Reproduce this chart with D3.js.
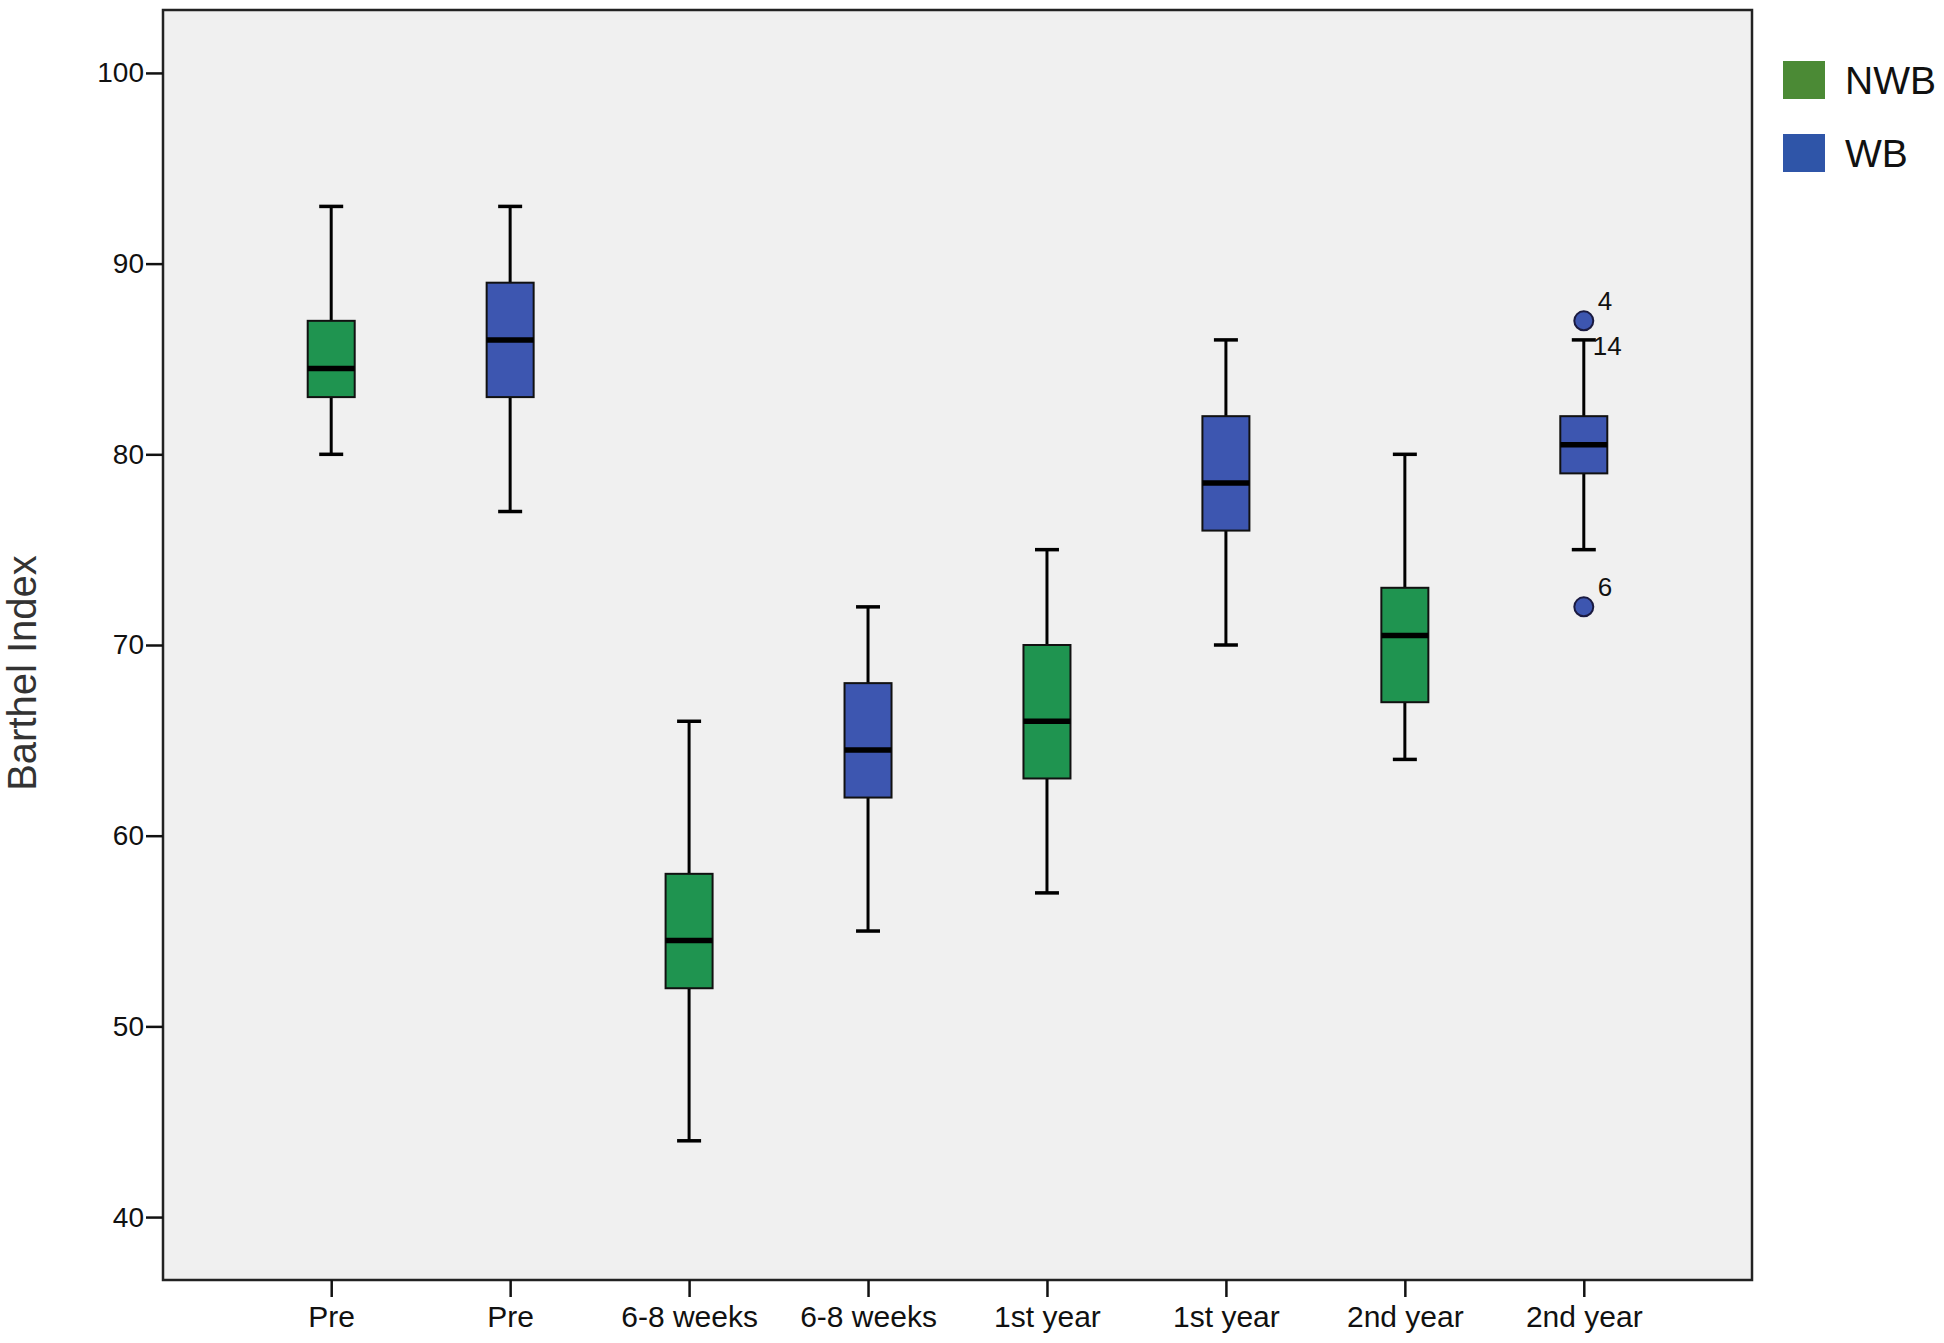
<!DOCTYPE html>
<html><head><meta charset="utf-8">
<script src="https://cdnjs.cloudflare.com/ajax/libs/d3/7.8.5/d3.min.js"></script>
<style>body{margin:0;background:#fff}svg{display:block}text{font-family:"Liberation Sans",Arial,sans-serif}</style>
</head><body>
<svg id="c" width="1944" height="1343"></svg>
<script>
const categories = ["Pre","Pre","6-8 weeks","6-8 weeks","1st year","1st year","2nd year","2nd year"];
const groups = ["NWB","WB","NWB","WB","NWB","WB","NWB","WB"];
const whiskerLow  = [80, 77, 44, 55, 57, 70, 64, 75];
const q1          = [83, 83, 52, 62, 63, 76, 67, 79];
const median      = [84.5, 86, 54.5, 64.5, 66, 78.5, 70.5, 80.5];
const q3          = [87, 89, 58, 68, 70, 82, 73, 82];
const whiskerHigh = [93, 93, 66, 72, 75, 86, 80, 86];
const outliers = [{box:7, value:87, label:"4"}, {box:7, value:72, label:"6"}];
const extraLabels = [{box:7, value:86, label:"14"}];
const yTicks = [40,50,60,70,80,90,100];
const legendItems = ["NWB","WB"];

const boxColor = {NWB:"#1f9450", WB:"#3d56b0"};
const legendColor = {NWB:"#4b8a35", WB:"#2f55a8"};

const svg = d3.select("#c");
const L=163, R=1752, T=10, B=1280;
const x = d3.scalePoint().domain(d3.range(categories.length)).range([L,R]).padding(0.94);
const y = d3.scaleLinear().domain([36.7, 103.3]).range([B,T]);

svg.append("rect").attr("x",L).attr("y",T).attr("width",R-L).attr("height",B-T)
  .attr("fill","#f0f0f0").attr("stroke","#222").attr("stroke-width",2.5);

// y axis
const ya = svg.append("g").attr("transform",`translate(${L},0)`)
  .call(d3.axisLeft(y).tickValues(yTicks).tickSize(17).tickSizeOuter(0).tickPadding(2));
ya.select(".domain").remove();
ya.selectAll("line").attr("stroke","#111").attr("stroke-width",2.5);
ya.selectAll("text").attr("font-size",28).attr("fill","#111");

// x axis
const xa = svg.append("g").attr("transform",`translate(0,${B})`)
  .call(d3.axisBottom(x).tickFormat(i=>categories[i]).tickSize(17).tickSizeOuter(0).tickPadding(9));
xa.select(".domain").remove();
xa.selectAll("line").attr("stroke","#111").attr("stroke-width",2.5);
xa.selectAll("text").attr("font-size",30).attr("fill","#111");

svg.append("text").attr("transform",`translate(36,673) rotate(-90)`)
  .attr("text-anchor","middle").attr("font-size",40).attr("fill","#333").text("Barthel Index");

const bw=47, cw=24;
const g = svg.append("g");
categories.forEach((c,i)=>{
  const cx=x(i);
  g.append("line").attr("x1",cx).attr("x2",cx).attr("y1",y(whiskerHigh[i])).attr("y2",y(q3[i])).attr("stroke","#000").attr("stroke-width",3);
  g.append("line").attr("x1",cx).attr("x2",cx).attr("y1",y(q1[i])).attr("y2",y(whiskerLow[i])).attr("stroke","#000").attr("stroke-width",3);
  g.append("line").attr("x1",cx-cw/2).attr("x2",cx+cw/2).attr("y1",y(whiskerHigh[i])).attr("y2",y(whiskerHigh[i])).attr("stroke","#000").attr("stroke-width",3.5);
  g.append("line").attr("x1",cx-cw/2).attr("x2",cx+cw/2).attr("y1",y(whiskerLow[i])).attr("y2",y(whiskerLow[i])).attr("stroke","#000").attr("stroke-width",3.5);
  g.append("rect").attr("x",cx-bw/2).attr("y",y(q3[i])).attr("width",bw).attr("height",y(q1[i])-y(q3[i]))
    .attr("fill",boxColor[groups[i]]).attr("stroke","#111").attr("stroke-width",2);
  g.append("line").attr("x1",cx-bw/2).attr("x2",cx+bw/2).attr("y1",y(median[i])).attr("y2",y(median[i])).attr("stroke","#000").attr("stroke-width",5.5);
});
outliers.forEach(o=>{
  g.append("circle").attr("cx",x(o.box)).attr("cy",y(o.value)).attr("r",9.5)
    .attr("fill",boxColor[groups[o.box]]).attr("stroke","#1a1a40").attr("stroke-width",2);
  g.append("text").attr("x",x(o.box)+14).attr("y",y(o.value)-11).attr("font-size",26).attr("fill","#111").text(o.label);
});
extraLabels.forEach(o=>{
  g.append("text").attr("x",x(o.box)+9).attr("y",y(o.value)+15).attr("font-size",26).attr("fill","#111").text(o.label);
});

// legend
legendItems.forEach((k,i)=>{
  svg.append("rect").attr("x",1783).attr("y",61+i*73).attr("width",42).attr("height",38).attr("fill",legendColor[k]);
  svg.append("text").attr("x",1845).attr("y",94+i*73).attr("font-size",39).attr("fill","#111").text(k);
});
</script>
</body></html>
